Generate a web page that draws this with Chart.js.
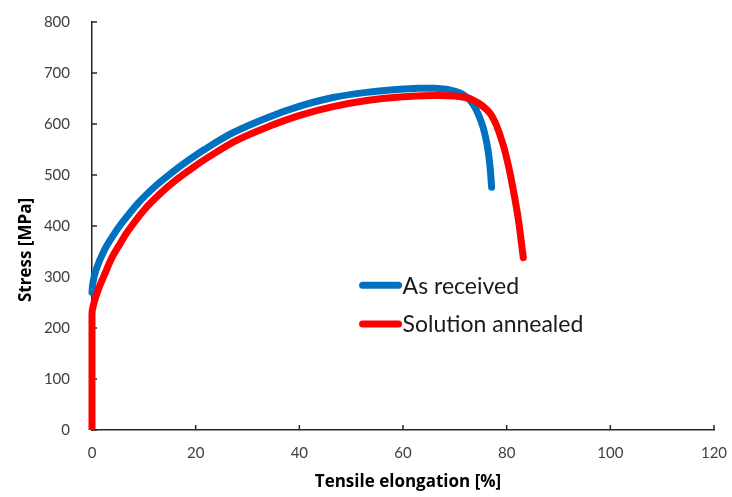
<!DOCTYPE html>
<html>
<head>
<meta charset="utf-8">
<script src="https://cdn.jsdelivr.net/npm/chart.js@4.4.1/dist/chart.umd.min.js"></script>
<style>
  html, body { margin: 0; padding: 0; background: #fff; }
  #wrap { width: 732px; height: 497px; position: relative; }
</style>
</head>
<body>
<div id="wrap"><canvas id="chart" width="732" height="497"></canvas></div>
<script>
// Tensile curves (elongation %, stress MPa)
const asReceivedStrain = [0, 0.2, 0.8, 2.4, 4, 5.7, 8.9, 12.1, 15.2, 18.5, 21.7, 27.2, 33.7, 40.1, 46.5, 53, 59.4, 63, 66, 69, 71, 72.5, 73.5, 74.5, 75.5, 76.3, 76.8, 77.1];
const asReceivedStress = [270, 290, 315, 353, 380, 405, 445, 477, 503, 528, 550, 583, 612, 635, 652, 662, 668, 670, 670, 667, 661, 651, 639, 620, 592, 555, 515, 476];

const annealedStrain = [0, 0, 0.3, 0.9, 1.5, 2.3, 3.8, 5.4, 7, 10.1, 13.2, 16.2, 19.4, 22.6, 27.9, 34.3, 40.1, 46.5, 53, 59.4, 65.8, 70, 72.5, 73.5, 75, 76.8, 78, 79.3, 80.3, 81.2, 82.3, 83.2];
const annealedStress = [0, 228, 246, 266, 283, 302, 337, 365, 391, 432, 464, 490, 514, 536, 568, 596, 617, 634, 646, 653, 656, 655, 651, 647, 638, 621, 598, 560, 520, 475, 410, 338];

const seriesLabels = ["As received", "Solution annealed"];
const seriesColors = ["#0070C0", "#FF0000"];

const xTicks = [0, 20, 40, 60, 80, 100, 120];
const yTicks = [0, 100, 200, 300, 400, 500, 600, 700, 800];
const xTitle = "Tensile elongation [%]";
const yTitle = "Stress [MPa]";

const toPoints = (xs, ys) => xs.map((x, i) => ({ x, y: ys[i] }));

// Short tick marks pointing into the plot, like the original spreadsheet chart
const innerTicks = {
  id: "innerTicks",
  beforeDatasetsDraw(chart) {
    const { ctx, chartArea, scales } = chart;
    ctx.save();
    ctx.strokeStyle = "#262626";
    ctx.lineWidth = 1.5;
    ctx.beginPath();
    xTicks.forEach((v) => {
      const px = scales.x.getPixelForValue(v);
      ctx.moveTo(px, chartArea.bottom);
      ctx.lineTo(px, chartArea.bottom - 5);
    });
    yTicks.forEach((v) => {
      const py = scales.y.getPixelForValue(v);
      ctx.moveTo(chartArea.left, py);
      ctx.lineTo(chartArea.left + 5, py);
    });
    ctx.stroke();
    ctx.restore();
  },
};

// Axis titles, placed where the original has them (y title sits a bit low)
const axisTitles = {
  id: "axisTitles",
  afterDraw(chart) {
    const { ctx, chartArea } = chart;
    ctx.save();
    ctx.fillStyle = "#000";
    ctx.font = "bold 17px 'Open Sans'";
    ctx.textAlign = "center";
    ctx.textBaseline = "middle";
    ctx.fillText(xTitle, (chartArea.left + chartArea.right) / 2 + 5, chartArea.bottom + 52);
    ctx.translate(26, (chartArea.top + chartArea.bottom) / 2 + 24);
    ctx.rotate(-Math.PI / 2);
    ctx.fillText(yTitle, 0, 0);
    ctx.restore();
  },
};

// Legend sitting inside the plot area
const insideLegend = {
  id: "insideLegend",
  afterDraw(chart) {
    const { ctx, chartArea } = chart;
    const w = chartArea.right - chartArea.left;
    const h = chartArea.bottom - chartArea.top;
    const x0 = chartArea.left + w * 0.435;
    const rows = [chartArea.top + h * 0.645, chartArea.top + h * 0.74];
    ctx.save();
    ctx.font = "23px Lato";
    ctx.textBaseline = "middle";
    seriesLabels.forEach((label, i) => {
      ctx.strokeStyle = seriesColors[i];
      ctx.lineWidth = 7;
      ctx.lineCap = "round";
      ctx.beginPath();
      ctx.moveTo(x0, rows[i]);
      ctx.lineTo(x0 + 36, rows[i]);
      ctx.stroke();
      ctx.fillStyle = "#1a1a1a";
      ctx.fillText(label, x0 + 40, rows[i] + 1);
    });
    ctx.restore();
  },
};

const lineStyle = (i) => ({
  showLine: true,
  borderColor: seriesColors[i],
  borderWidth: 7,
  borderCapStyle: "round",
  borderJoinStyle: "round",
  tension: 0.35,
  pointRadius: 0,
  clip: { left: 6, right: 6, top: 6, bottom: 0 },
});

// Drop the label overhang padding so the plot box lands where the original has it
const noOverhang = (scale) => {
  scale.paddingTop = 0;
  scale.paddingBottom = 0;
  scale.paddingLeft = 0;
  scale.paddingRight = 0;
};

new Chart(document.getElementById("chart"), {
  type: "scatter",
  data: {
    datasets: [
      { label: seriesLabels[1], data: toPoints(annealedStrain, annealedStress), order: 0, ...lineStyle(1) },
      { label: seriesLabels[0], data: toPoints(asReceivedStrain, asReceivedStress), order: 1, ...lineStyle(0) },
    ],
  },
  options: {
    responsive: false,
    animation: false,
    layout: { padding: { top: 22, right: 18, left: 0, bottom: 0 } },
    plugins: {
      legend: { display: false },
      tooltip: { enabled: false },
    },
    scales: {
      x: {
        type: "linear",
        min: 0,
        max: 120,
        afterFit: (scale) => { scale.height = 67; noOverhang(scale); },
        afterBuildTicks: (scale) => { scale.ticks = xTicks.map((v) => ({ value: v })); },
        ticks: { color: "#404040", font: { family: "Lato", size: 15 }, padding: 14 },
        grid: { display: false, drawTicks: false },
        border: { display: true, color: "#262626", width: 1.5 },
      },
      y: {
        type: "linear",
        min: 0,
        max: 800,
        afterFit: (scale) => { scale.width = 92; noOverhang(scale); },
        afterBuildTicks: (scale) => { scale.ticks = yTicks.map((v) => ({ value: v })); },
        ticks: { color: "#404040", font: { family: "Lato", size: 15 }, padding: 22 },
        grid: { display: false, drawTicks: false },
        border: { display: true, color: "#262626", width: 1.5 },
      },
    },
  },
  plugins: [innerTicks, axisTitles, insideLegend],
});
</script>
</body>
</html>
